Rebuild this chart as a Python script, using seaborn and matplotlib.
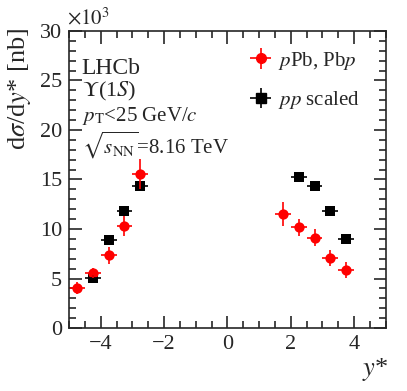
import matplotlib
matplotlib.use("Agg")
import matplotlib.pyplot as plt
from matplotlib.ticker import MultipleLocator
import seaborn as sns
import numpy as np
import pandas as pd

# y* bins
y_ppb = [-4.75, -4.25, -3.75, -3.25, -2.75, 1.75, 2.25, 2.75, 3.25, 3.75]
sig_ppb = [4.07, 5.6, 7.33, 10.33, 15.55, 11.5, 10.17, 9.12, 7.07, 5.89]
err_ppb = [0.6, 0.5, 0.9, 1.0, 1.5, 1.2, 0.85, 0.87, 0.8, 0.8]

y_pp = [-4.25, -3.75, -3.25, -2.75, 2.25, 2.75, 3.25, 3.75]
sig_pp = [5.1, 8.9, 11.78, 14.3, 15.2, 14.3, 11.78, 8.95]
err_pp = [0.25, 0.3, 0.35, 0.4, 0.4, 0.35, 0.3, 0.25]

bin_half = 0.25

sns.set_style("ticks")
plt.rcParams['font.family'] = ['Liberation Serif', 'DejaVu Serif']
plt.rcParams['mathtext.fontset'] = 'stix'

df_ppb = pd.DataFrame({"y": y_ppb, "sig": sig_ppb})
df_pp = pd.DataFrame({"y": y_pp, "sig": sig_pp})

fig = plt.figure(figsize=(4.07, 3.91), dpi=100)
ax = fig.add_axes([0.1695, 0.161, 0.7785, 0.76])

ax.errorbar(y_pp, sig_pp, xerr=bin_half, yerr=err_pp, fmt='none',
            ecolor='black', elinewidth=1.2, capsize=0)
ax.errorbar(y_ppb, sig_ppb, xerr=bin_half, yerr=err_ppb, fmt='none',
            ecolor='red', elinewidth=1.2, capsize=0)
sns.scatterplot(data=df_pp, x="y", y="sig", marker='s', color='black',
                s=50, edgecolor='black', linewidth=0, ax=ax, legend=False)
sns.scatterplot(data=df_ppb, x="y", y="sig", marker='o', color='red',
                s=55, edgecolor='red', linewidth=0, ax=ax, legend=False)

ax.set_xlim(-5, 5)
ax.set_ylim(0, 30)
ax.xaxis.set_major_locator(MultipleLocator(2))
ax.xaxis.set_minor_locator(MultipleLocator(0.5))
ax.yaxis.set_major_locator(MultipleLocator(5))
ax.yaxis.set_minor_locator(MultipleLocator(1))
ax.tick_params(which='both', direction='in', top=True, right=True,
               labelsize=16, width=1.2, pad=5)
ax.tick_params(which='major', length=9)
ax.tick_params(which='minor', length=5)
for s in ax.spines.values():
    s.set_linewidth(1.2)

ax.set_xlabel('')
ax.set_ylabel('')
fig.text(0.955, 0.02, r'$y$*', fontsize=19, ha='right', va='bottom')
fig.text(0.015, 0.93, r'd$\sigma$/d$y$* [nb]', fontsize=19, rotation=90,
         ha='left', va='top')
fig.text(0.165, 0.925, r'$\times 10^3$', fontsize=15, ha='left', va='bottom')

ax.text(0.04, 0.875, 'LHCb', transform=ax.transAxes, fontsize=17, va='center')
ax.text(0.04, 0.795, r'$\Upsilon$(1$S$)', transform=ax.transAxes, fontsize=16,
        va='center')
ax.text(0.04, 0.715, r'$p_{\mathrm{T}}$<25 GeV/$c$', transform=ax.transAxes,
        fontsize=15, va='center')
ax.text(0.04, 0.615, r'$\sqrt{s_{\mathrm{NN}}}$=8.16 TeV', transform=ax.transAxes,
        fontsize=15, va='center')

h1 = ax.errorbar([], [], xerr=[], yerr=[], fmt='o', color='red', ms=7,
                 elinewidth=1.2)
h2 = ax.errorbar([], [], xerr=[], yerr=[], fmt='s', color='black', ms=7,
                 elinewidth=1.2)
ax.legend([h1, h2], [r'$p$Pb, Pb$p$', r'$pp$ scaled'], loc='upper left',
          bbox_to_anchor=(0.51, 1.0), frameon=False, fontsize=15,
          handlelength=1.1, handletextpad=0.3, labelspacing=0.85)

fig.savefig('out.png', dpi=100)
